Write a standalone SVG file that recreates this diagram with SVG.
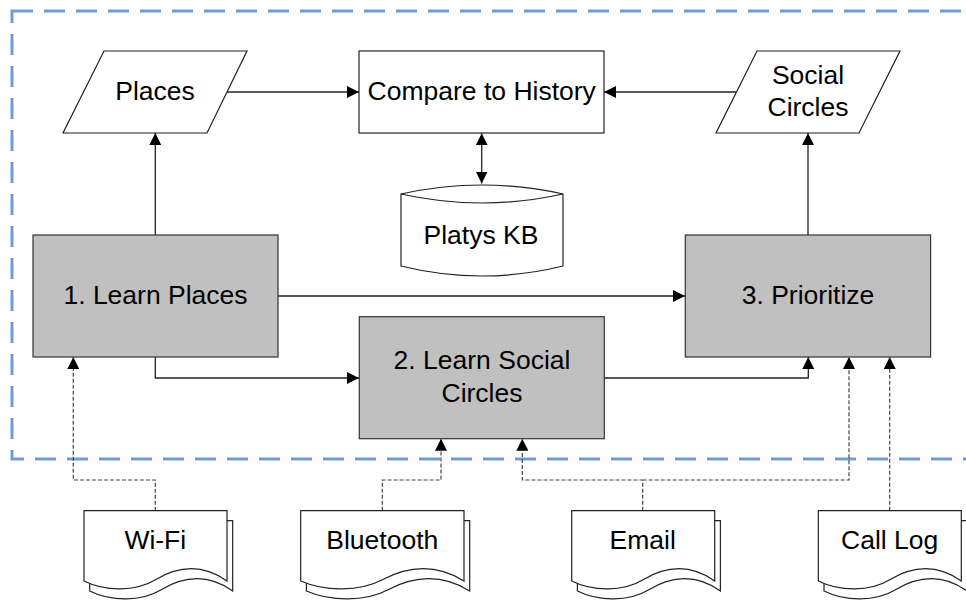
<svg xmlns="http://www.w3.org/2000/svg" xmlns:xlink="http://www.w3.org/1999/xlink" width="966" height="602" viewBox="0 0 966 602">
<style>
text{font-family:"Liberation Sans",Arial,sans-serif;font-size:26.5px;fill:#000;text-anchor:middle}
.shape{fill:#fff;stroke:#222;stroke-width:1.2}
.proc{fill:#c0c0c0;stroke:#333;stroke-width:1.2}
.line{fill:none;stroke:#222;stroke-width:1.3}
.dash{fill:none;stroke:#444;stroke-width:1.2;stroke-dasharray:4,2}
.border{fill:none;stroke:#6f9bd9;stroke-width:3;stroke-dasharray:21,11}
</style>
<defs>
<marker id="arr" viewBox="0 0 12 12" refX="12" refY="6" markerWidth="12" markerHeight="12" markerUnits="userSpaceOnUse" orient="auto-start-reverse">
<path d="M0,0 L12,6 L0,12 Z" fill="#000"/>
</marker>
<g id="doc143">
<path class="shape" d="M5.7,10 H148.7 V80.3 C121.5,61 97.2,67 77.2,79 C57.2,91 27.2,91 5.7,80.3 Z"/>
<path class="shape" d="M0,0 H143 V70.3 C115.8,51 91.5,57 71.5,69 C51.5,81 21.5,81 0,70.3 Z"/>
</g>
</defs>
<rect class="border" x="12" y="11" width="966" height="448"/>
<g id="connectors">
<polyline class="line" points="227,92 359,92" marker-end="url(#arr)"/>
<polyline class="line" points="736,92 604,92" marker-end="url(#arr)"/>
<polyline class="line" points="481.7,183.5 481.7,133.3" marker-start="url(#arr)" marker-end="url(#arr)"/>
<polyline class="line" points="155.3,235 155.3,133" marker-end="url(#arr)"/>
<polyline class="line" points="808,235 808,133" marker-end="url(#arr)"/>
<polyline class="line" points="278,296 685,296" marker-end="url(#arr)"/>
<polyline class="line" points="155.3,357 155.3,378 359,378" marker-end="url(#arr)"/>
<polyline class="line" points="604,378 808.3,378 808.3,357" marker-end="url(#arr)"/>
<polyline class="dash" points="155.3,510.7 155.3,480 73.3,480 73.3,357" marker-end="url(#arr)"/>
<polyline class="dash" points="382.3,510.7 382.3,480 441,480 441,438.7" marker-end="url(#arr)"/>
<polyline class="dash" points="642.7,510.7 642.7,480 522.3,480 522.3,438.7" marker-end="url(#arr)"/>
<polyline class="dash" points="642.7,480 849,480 849,357" marker-end="url(#arr)"/>
<polyline class="dash" points="889.7,510.7 889.7,357" marker-end="url(#arr)"/>
</g>
<g id="places">
<polygon class="shape" points="104,51 247,51 207,133 63,133"/>
<text x="155" y="100">Places</text>
</g>
<g id="compare">
<rect class="shape" x="359" y="51" width="245" height="82"/>
<text x="481.7" y="100">Compare to History</text>
</g>
<g id="socialcircles">
<polygon class="shape" points="757,51 900,51 859,133 716,133"/>
<text x="808" y="83.5">Social</text>
<text x="808" y="116">Circles</text>
</g>
<g id="platyskb">
<path class="shape" d="M401,194 Q482,176 563,194 V266 Q482,286 401,266 Z"/>
<path class="shape" fill="none" d="M401,194 Q482,212 563,194"/>
<text x="481" y="244">Platys KB</text>
</g>
<g id="learnplaces">
<rect class="proc" x="33" y="235" width="245" height="122"/>
<text x="155.5" y="304.3">1. Learn Places</text>
</g>
<g id="prioritize">
<rect class="proc" x="685.3" y="235" width="245.3" height="122"/>
<text x="808" y="304.3">3. Prioritize</text>
</g>
<g id="learnsocial">
<rect class="proc" x="359.3" y="316.7" width="245" height="122"/>
<text x="482" y="369">2. Learn Social</text>
<text x="482" y="401.7">Circles</text>
</g>
<g id="wifi">
<use xlink:href="#doc143" transform="translate(84,510.7)"/>
<text x="155.3" y="549.3">Wi-Fi</text>
</g>
<g id="bluetooth">
<g transform="translate(300.7,510.7)">
<path class="shape" d="M5.7,10 H169 V80.3 C138,61 110.2,67 87.4,79 C64.5,91 30.2,91 5.7,80.3 Z"/>
<path class="shape" d="M0,0 H163.3 V70.3 C132.3,51 104.5,57 81.7,69 C58.8,81 24.5,81 0,70.3 Z"/>
</g>
<text x="382.3" y="549.3">Bluetooth</text>
</g>
<g id="email">
<use xlink:href="#doc143" transform="translate(571.7,510.7)"/>
<text x="642.7" y="549.3">Email</text>
</g>
<g id="calllog">
<use xlink:href="#doc143" transform="translate(818.3,510.7)"/>
<text x="889.7" y="549.3">Call Log</text>
</g>
</svg>
